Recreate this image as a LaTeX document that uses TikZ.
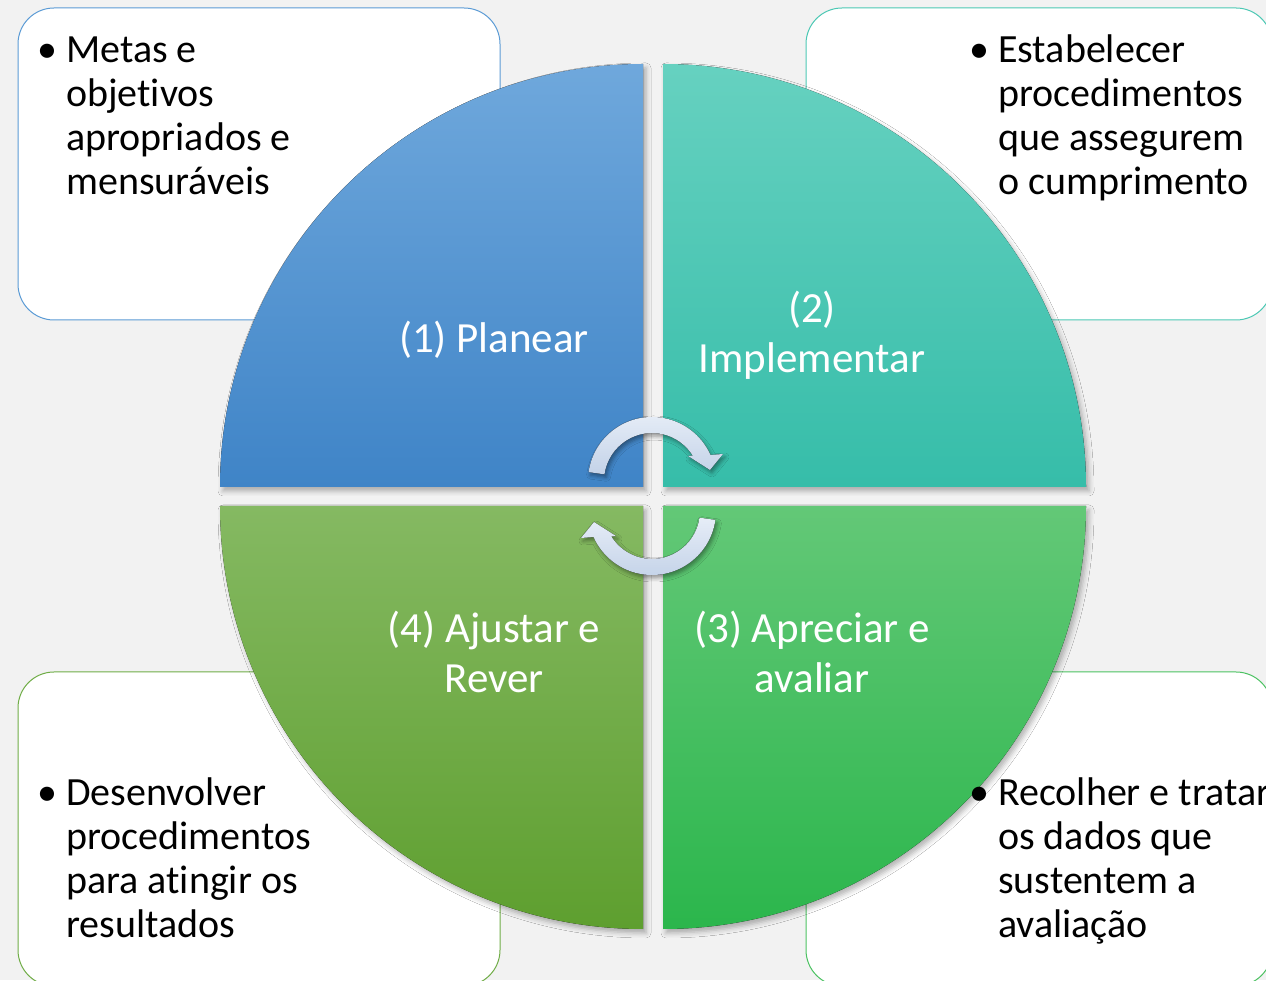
\documentclass[tikz,border=0pt]{standalone}
\usepackage{fontspec}
\setmainfont{Carlito}[Ligatures=NoCommon]
\usetikzlibrary{shadows.blur}

\definecolor{bg}{HTML}{F2F2F2}
\definecolor{bluetop}{HTML}{6FA8DC}
\definecolor{bluebot}{HTML}{3F84C7}
\definecolor{tealtop}{HTML}{66D1C0}
\definecolor{tealbot}{HTML}{36BDA9}
\definecolor{olivetop}{HTML}{85B962}
\definecolor{olivebot}{HTML}{5E9F2F}
\definecolor{greentop}{HTML}{63C877}
\definecolor{greenbot}{HTML}{2BB64C}
\definecolor{blueline}{HTML}{5B9BD5}
\definecolor{tealline}{HTML}{4CC8B4}
\definecolor{oliveline}{HTML}{70AD47}
\definecolor{greenline}{HTML}{4CC262}
\definecolor{turntop}{HTML}{E6EDF7}
\definecolor{turnbot}{HTML}{C3D2E8}

\begin{document}
\begin{tikzpicture}[x=1pt,y=1pt,
  box/.style={draw=#1,fill=white,line width=1pt,rounded corners=36pt,inner sep=0pt},
  quad/.style={blur shadow={shadow xshift=3pt,shadow yshift=-4pt,shadow blur radius=5pt,shadow opacity=30}},
  turn/.style={top color=turntop,bottom color=turnbot,blur shadow={shadow xshift=2pt,shadow yshift=-3pt,shadow blur radius=4pt,shadow opacity=40}},
  lbl/.style={anchor=base,text=white,align=center,inner sep=0pt,font=\fontsize{43}{50}\selectfont},
  note/.style={anchor=base west,align=left,inner sep=0pt,font=\fontsize{40}{44}\selectfont}]
  \path[use as bounding box,fill=bg] (0,0) rectangle (1266,980);

  % boxes in the corners
  \node[box=blueline,minimum width=482pt,minimum height=312pt]  (b1) at (259,816) {};
  \node[box=tealline,minimum width=466pt,minimum height=312pt]  (b2) at (1039,816) {};
  \node[box=greenline,minimum width=466pt,minimum height=314pt] (b3) at (1039,151) {};
  \node[box=oliveline,minimum width=482pt,minimum height=314pt] (b4) at (259,151) {};

  % the four quarters
  \fill[quad,top color=bluetop,bottom color=bluebot] (643,493) -- (220,493) arc[start angle=180,end angle=90,radius=423] -- cycle;
  \fill[quad,top color=tealtop,bottom color=tealbot] (663,493) -- (663,916) arc[start angle=90,end angle=0,radius=423] -- cycle;
  \fill[quad,top color=greentop,bottom color=greenbot] (663,474) -- (663,51) arc[start angle=270,end angle=360,radius=423] -- cycle;
  \fill[quad,top color=olivetop,bottom color=olivebot] (643,474) -- (220,474) arc[start angle=180,end angle=270,radius=423] -- cycle;

  % turning arrows
  \begin{scope}[shift={(652,499)}]
    \fill[turn] (172:64) arc[start angle=172,end angle=24,radius=64] -- (71,27) -- (58,11) -- (36,25) -- (32:48) arc[start angle=32,end angle=172,radius=48] -- cycle;
  \end{scope}
  \begin{scope}[shift={(652,469)}]
    \fill[turn] (352:64) arc[start angle=352,end angle=204,radius=64] -- (-71,-27) -- (-58,-11) -- (-36,-25) -- (212:48) arc[start angle=212,end angle=352,radius=48] -- cycle;
  \end{scope}

  % base anchor sits on the last line
  \node[lbl] (q1) at (494,627) {(1) Planear};
  \node[lbl] (q2) at (812,607) {(2)\\Implementar};
  \node[lbl] (q3) at (812,287) {(3) Apreciar e\\avaliar};
  \node[lbl] (q4) at (494,287) {(4) Ajustar e\\Rever};

  \node[note] (n1) at (66,785)  {\llap{\textbullet\hspace{9pt}}Metas e\\objetivos\\apropriados e\\mensuráveis};
  \node[note] (n2) at (998,785) {\llap{\textbullet\hspace{9pt}}Estabelecer\\procedimentos\\que assegurem\\o cumprimento};
  \node[note] (n3) at (998,43)  {\llap{\textbullet\hspace{9pt}}Recolher e tratar\\os dados que\\sustentem a\\avaliação};
  \node[note] (n4) at (66,43)   {\llap{\textbullet\hspace{9pt}}Desenvolver\\procedimentos\\para atingir os\\resultados};
\end{tikzpicture}
\end{document}
